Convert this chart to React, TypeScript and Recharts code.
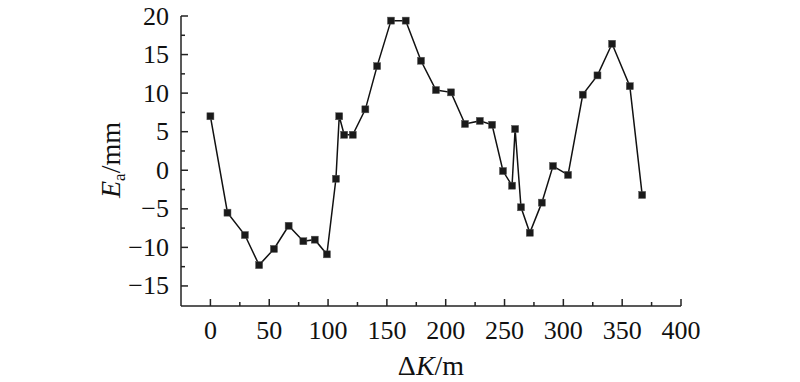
import React from 'react';
import { LineChart, Line, XAxis, YAxis, Label } from 'recharts';

const dK = [0, 14.5, 29.3, 41.4, 54, 66.5, 79, 88.7, 99, 106.7, 109.5, 113.7, 121, 131.7, 141.7, 153.5, 166, 179, 191.7, 204.5, 216.4, 229, 239.4, 248.7, 256.4, 259, 264, 271.5, 281.7, 291.2, 304, 316.5, 329, 341.4, 356.5, 367];
const Ea = [7.0, -5.5, -8.4, -12.3, -10.2, -7.2, -9.2, -9.0, -10.9, -1.1, 7.0, 4.6, 4.6, 7.9, 13.5, 19.4, 19.4, 14.2, 10.4, 10.1, 6.0, 6.4, 5.9, -0.1, -2.0, 5.35, -4.8, -8.1, -4.2, 0.55, -0.6, 9.8, 12.3, 16.4, 10.9, -3.2];

const xTicks = [0, 25, 50, 75, 100, 125, 150, 175, 200, 225, 250, 275, 300, 325, 350, 375, 400];
const yTicks = [-15, -12.5, -10, -7.5, -5, -2.5, 0, 2.5, 5, 7.5, 10, 12.5, 15, 17.5, 20];

const data = dK.map((x, i) => ({ x, y: Ea[i] }));

const FONT = "Liberation Serif";
const fmt = (v: number) => (v < 0 ? '\u2212' + Math.abs(v) : String(v));

const renderXTick = (props: any) => {
  const { x, y, payload } = props;
  const v = payload.value;
  const major = v % 50 === 0;
  return (
    <g key={'xt' + v}>
      <line x1={x} x2={x} y1={y} y2={y - (major ? 7 : 4)} stroke="#222" strokeWidth={1.5} />
      {major && (
        <text x={x} y={y + 33} textAnchor="middle" fontFamily={FONT} fontSize={26} fill="#111">
          {fmt(v)}
        </text>
      )}
    </g>
  );
};

const renderYTick = (props: any) => {
  const { x, y, payload } = props;
  const v = payload.value;
  const major = v % 5 === 0;
  return (
    <g key={'yt' + v}>
      <line x1={x} x2={x + (major ? 7 : 4)} y1={y} y2={y} stroke="#222" strokeWidth={1.5} />
      {major && (
        <text x={x - 12} y={y + 8.5} textAnchor="end" fontFamily={FONT} fontSize={26} fill="#111">
          {fmt(v)}
        </text>
      )}
    </g>
  );
};

const Marker = (props: any) => {
  const { cx, cy } = props;
  if (cx == null || cy == null) return null;
  return <rect x={cx - 3.5} y={cy - 3.5} width={7} height={7} fill="#1a1a1a" stroke="#555" strokeWidth={0.5} />;
};

export default function App() {
  return (
    <div style={{ position: 'fixed', left: 0, top: 0, width: 800, height: 382, background: '#fff', fontFamily: FONT }}>
      <LineChart width={800} height={382} data={data} margin={{ top: 16, right: 119, left: 0, bottom: 0 }}>
        <XAxis
          dataKey="x"
          type="number"
          domain={[-25, 400]}
          ticks={xTicks}
          interval={0}
          tickSize={0}
          tickMargin={0}
          tick={renderXTick}
          height={76}
          axisLine={{ stroke: '#222', strokeWidth: 1.5 }}
          tickLine={false}
        >
          <Label
            content={() => (
              <text x={431} y={375} textAnchor="middle" fontFamily={FONT} fontSize={28} fill="#111">
                {'\u0394'}
                <tspan fontStyle="italic">K</tspan>
                /m
              </text>
            )}
          />
        </XAxis>
        <YAxis
          type="number"
          domain={[-17.6, 20]}
          ticks={yTicks}
          interval={0}
          tickSize={0}
          tickMargin={0}
          tick={renderYTick}
          width={181}
          axisLine={{ stroke: '#222', strokeWidth: 1.5 }}
          tickLine={false}
          allowDataOverflow
        >
          <Label
            content={() => (
              <text
                x={112}
                y={168}
                textAnchor="middle"
                fontFamily={FONT}
                fontSize={28}
                fill="#111"
                transform="rotate(-90, 112, 160)"
              >
                <tspan fontStyle="italic">E</tspan>
                <tspan fontSize={17} dy={5}>a</tspan>
                <tspan dy={-5}>/mm</tspan>
              </text>
            )}
          />
        </YAxis>
        <Line
          dataKey="y"
          stroke="#111"
          strokeWidth={1.5}
          dot={<Marker />}
          activeDot={false}
          isAnimationActive={false}
        />
      </LineChart>
    </div>
  );
}
